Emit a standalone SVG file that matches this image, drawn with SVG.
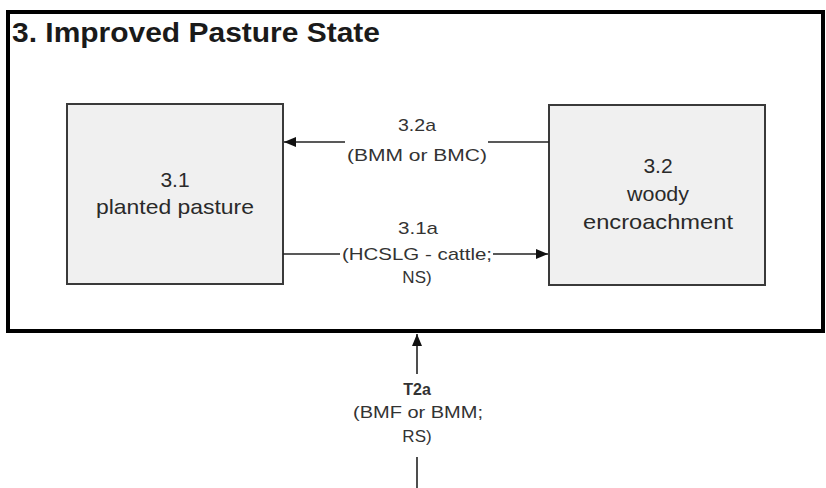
<svg xmlns="http://www.w3.org/2000/svg" width="826" height="488" viewBox="0 0 826 488">
  <defs>
    <marker id="arrow" markerUnits="userSpaceOnUse" markerWidth="13" markerHeight="11" refX="12" refY="5" orient="auto">
      <path d="M0,0 L12,5 L0,10 z" fill="#111"/>
    </marker>
    <style>
      .frame { fill: none; stroke: #000; stroke-width: 4; }
      .box { fill: #f0f0f0; stroke: #3a3a3a; stroke-width: 2; }
      .title { font-family: "Liberation Sans", Arial, sans-serif; font-weight: bold; font-size: 28px; fill: #1a1a1a; }
      .node { font-family: "Liberation Sans", Arial, sans-serif; font-size: 21px; fill: #2a2a2a; text-anchor: middle; }
      .lbl { font-family: "Liberation Sans", Arial, sans-serif; font-size: 17px; fill: #333; text-anchor: middle; }
      .lblb { font-family: "Liberation Sans", Arial, sans-serif; font-size: 16px; font-weight: bold; fill: #333; text-anchor: middle; }
      .conn { fill: none; stroke: #222; stroke-width: 1.6; }
    </style>
  </defs>
  <rect x="0" y="0" width="826" height="488" fill="#fff"/>

  <g id="state3">
    <rect class="frame" x="8" y="12" width="815" height="319"/>
    <text class="title" x="12" y="42" textLength="368" lengthAdjust="spacingAndGlyphs">3. Improved Pasture State</text>
  </g>

  <g id="node-3-1">
    <rect class="box" x="67" y="104" width="216" height="180"/>
    <text class="node" x="175" y="187">3.1</text>
    <text class="node" x="175" y="214" textLength="158" lengthAdjust="spacingAndGlyphs">planted pasture</text>
  </g>

  <g id="node-3-2">
    <rect class="box" x="549" y="105" width="216" height="180"/>
    <text class="node" x="658" y="173">3.2</text>
    <text class="node" x="658" y="201" textLength="62" lengthAdjust="spacingAndGlyphs">woody</text>
    <text class="node" x="658" y="229" textLength="150" lengthAdjust="spacingAndGlyphs">encroachment</text>
  </g>

  <g id="connectors">
    <!-- 3.2a : 3.2 -> 3.1 -->
    <line class="conn" x1="549" y1="142" x2="488" y2="142"/>
    <line class="conn" x1="345" y1="142" x2="284" y2="142" marker-end="url(#arrow)"/>
    <text class="lbl" x="417" y="131" textLength="38" lengthAdjust="spacingAndGlyphs">3.2a</text>
    <text class="lbl" x="417" y="161" textLength="140" lengthAdjust="spacingAndGlyphs">(BMM or BMC)</text>

    <!-- 3.1a : 3.1 -> 3.2 -->
    <line class="conn" x1="283" y1="254" x2="340" y2="254"/>
    <line class="conn" x1="493" y1="254" x2="548" y2="254" marker-end="url(#arrow)"/>
    <text class="lbl" x="418" y="234" textLength="40" lengthAdjust="spacingAndGlyphs">3.1a</text>
    <text class="lbl" x="417" y="260" textLength="150" lengthAdjust="spacingAndGlyphs">(HCSLG - cattle;</text>
    <text class="lbl" x="417" y="283">NS)</text>

    <!-- T2a : into state 3 -->
    <line class="conn" x1="417" y1="374" x2="417" y2="334" marker-end="url(#arrow)"/>
    <line class="conn" x1="417" y1="457" x2="417" y2="488"/>
    <text class="lblb" x="417" y="395">T2a</text>
    <text class="lbl" x="418" y="418" textLength="130" lengthAdjust="spacingAndGlyphs">(BMF or BMM;</text>
    <text class="lbl" x="417" y="442">RS)</text>
  </g>
</svg>
